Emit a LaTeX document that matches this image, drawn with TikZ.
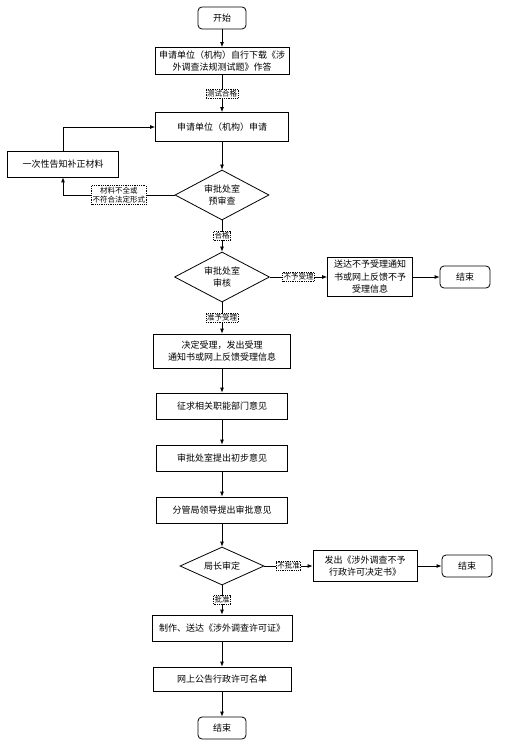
\documentclass[tikz,border=0pt]{standalone}
\usepackage{fontspec}
\newfontfamily\cjk{Noto Sans CJK SC}
\usetikzlibrary{shapes.geometric, arrows.meta}
\tikzset{
  st/.style={rectangle, rounded corners=4pt, minimum width=48pt, minimum height=22pt, text centered, draw=black, font=\cjk\fontsize{9}{11}\selectfont},
  op/.style={rectangle, minimum height=26pt, text centered, align=center, draw=black, inner sep=1pt, font=\cjk\fontsize{9}{12.5}\selectfont},
  cn/.style={diamond, aspect=2, inner sep=0pt, text centered, align=center, draw=black, font=\cjk\fontsize{9}{12.5}\selectfont},
  lb/.style={rectangle, draw=black, densely dotted, fill=white, inner sep=1pt, align=center, font=\cjk\fontsize{7.5}{9.5}\selectfont},
  ar/.style={-{Latex[length=5pt,width=4pt]}}
}
\begin{document}
\begin{tikzpicture}[x=1pt, y=-1pt, thick]
  \useasboundingbox (0,0) rectangle (519,743);
  % main column
  \node[st] (start) at (222,18) {开始};
  \node[op, minimum width=134pt, minimum height=27pt] (dl) at (222,61) {申请单位（机构）自行下载《涉\\外调查法规测试题》作答};
  \node[op, minimum width=133pt, minimum height=29pt] (apply) at (222,127) {申请单位（机构）申请};
  \node[op, minimum width=111pt] (fix) at (63,164) {一次性告知补正材料};
  \node[cn, minimum width=94pt, minimum height=50pt] (pre) at (222,195) {审批处室\\预审查};
  \node[cn, minimum width=95pt, minimum height=50pt] (aud) at (222,277) {审批处室\\审核};
  \node[op, minimum width=85pt, minimum height=39pt] (rej) at (370,277) {送达不予受理通知\\书或网上反馈不予\\受理信息};
  \node[st, minimum width=50pt] (end1) at (465,277) {结束};
  \node[op, minimum width=137pt, minimum height=34pt] (dec) at (222,351) {决定受理，发出受理\\通知书或网上反馈受理信息};
  \node[op, minimum width=131pt] (ask) at (222,406) {征求相关职能部门意见};
  \node[op, minimum width=131pt] (init) at (222,458) {审批处室提出初步意见};
  \node[op, minimum width=131pt] (lead) at (222,510) {分管局领导提出审批意见};
  \node[cn, minimum width=84pt, minimum height=38pt] (head) at (222,566) {局长审定};
  \node[op, minimum width=104pt, minimum height=31pt] (deny) at (365,566) {发出《涉外调查不予\\行政许可决定书》};
  \node[st, minimum width=50pt] (end2) at (467,566) {结束};
  \node[op, minimum width=140pt] (make) at (222,628) {制作、送达《涉外调查许可证》};
  \node[op, minimum width=138pt, minimum height=24pt] (pub) at (222,679) {网上公告行政许可名单};
  \node[st] (end3) at (222,728) {结束};
  % connectors
  \draw[ar] (start) -- (dl);
  \draw[ar] (dl) -- node[lb] {测试合格} (apply);
  \draw[ar] (apply) -- (pre);
  \draw[ar] (pre.west) -| node[lb, pos=0.25] {材料不全或\\不符合法定形式} (fix.south);
  \draw[ar] (fix.north) |- (apply.west);
  \draw[ar] (pre) -- node[lb] {合格} (aud);
  \draw[ar] (aud) -- node[lb] {不予受理} (rej);
  \draw[ar] (rej) -- (end1);
  \draw[ar] (aud) -- node[lb] {准予受理} (dec);
  \draw[ar] (dec) -- (ask);
  \draw[ar] (ask) -- (init);
  \draw[ar] (init) -- (lead);
  \draw[ar] (lead) -- (head);
  \draw[ar] (head) -- node[lb] {不批准} (deny);
  \draw[ar] (deny) -- (end2);
  \draw[ar] (head) -- node[lb] {批准} (make);
  \draw[ar] (make) -- (pub);
  \draw[ar] (pub) -- (end3);
\end{tikzpicture}
\end{document}
